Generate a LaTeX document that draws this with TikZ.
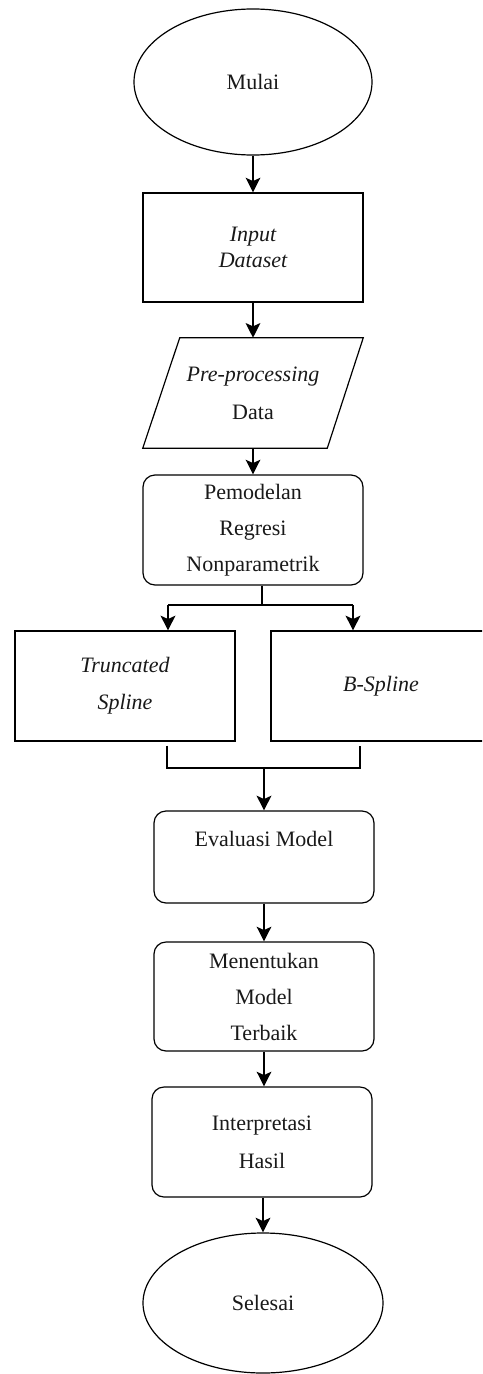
\documentclass[tikz,border=0pt]{standalone}
\usepackage{fontspec}
\setmainfont{Liberation Serif}
\usetikzlibrary{shapes.geometric,arrows.meta,calc}
\begin{document}
\begin{tikzpicture}[x=0.75pt,y=-0.75pt,
  every node/.style={font=\fontsize{16.5}{27}\selectfont, align=center, text=black!90},
  boxnode/.style={draw, line width=0.9pt, minimum width=165pt, inner sep=0pt},
  roundnode/.style={boxnode, rounded corners=9pt},
  ovalnode/.style={draw, line width=0.9pt, ellipse, inner sep=0pt},
  flow/.style={line width=1.1pt, -{Stealth[length=11pt,width=11pt,inset=2.5pt]}},
  branch/.style={line width=1.6pt},
  brancharrow/.style={line width=1.6pt, -{Stealth[length=11pt,width=11pt,inset=2.5pt]}}]
\useasboundingbox (0,0) rectangle (482,1374);
\begin{scope}
\clip (0,0) rectangle (482,1374);
\node[ovalnode, minimum width=178.5pt, minimum height=109.5pt] (mulai) at (253,82) {Mulai};
\node[boxnode, minimum height=81.75pt, font=\fontsize{16.5}{19}\selectfont\itshape] (input) at (253,247.5) {Input\\Dataset};
\node[minimum width=165pt, minimum height=82.5pt, inner sep=0pt, font=\fontsize{16.5}{28.5}\selectfont] (pre) at (253,393) {\textit{Pre-processing}\\Data};
\draw[line width=0.9pt] ($(pre.north west)+(37,0)$) -- (pre.north east) -- ($(pre.south east)+(-36,0)$) -- (pre.south west) -- cycle;
\node[roundnode, minimum height=82.5pt] (pem) at (253,530) {Pemodelan\\Regresi\\Nonparametrik};
\node[boxnode, minimum height=82.5pt, font=\fontsize{16.5}{28}\selectfont\itshape] (trunc) at (125,686) {Truncated\\Spline};
\node[boxnode, minimum height=82.5pt, font=\fontsize{16.5}{28}\selectfont\itshape] (bsp) at (381,686) {B-Spline};
\node[roundnode, minimum height=69pt] (eval) at (264,857) {Evaluasi Model\\~};
\node[roundnode, minimum height=81.75pt] (men) at (264,996.5) {Menentukan\\Model\\Terbaik};
\node[roundnode, minimum height=82.5pt, font=\fontsize{16.5}{28.5}\selectfont] (int) at (262,1142) {Interpretasi\\Hasil};
\node[ovalnode, minimum width=180pt, minimum height=105pt] (sel) at (263,1303) {Selesai};

\coordinate (s) at (262,605);
\coordinate (bl) at (168,605);
\coordinate (br) at (353,605);
\coordinate (ul) at (167,768);
\coordinate (ur) at (360,768);
\coordinate (m) at (264,768);

\draw[flow] (mulai.south) -- (input.north);
\draw[flow] (input.south) -- (pre.north);
\draw[flow] (pre.south) -- (pem.north);
\draw[branch] (pem.south -| s) -- (s);
\draw[branch] (bl) -- (br);
\draw[brancharrow] (bl) -- (bl |- trunc.north);
\draw[brancharrow] (br) -- (br |- bsp.north);
\draw[branch] ($(ul |- trunc.south)+(0,4)$) -- (ul) -- (ur) -- ($(ur |- bsp.south)+(0,4)$);
\draw[brancharrow] (m) -- (m |- eval.north);
\draw[flow] (eval.south) -- (men.north);
\draw[flow] (men.south) -- (men.south |- int.north);
\draw[flow] (int.south -| sel) -- (sel.north);
\end{scope}
\end{tikzpicture}
\end{document}
